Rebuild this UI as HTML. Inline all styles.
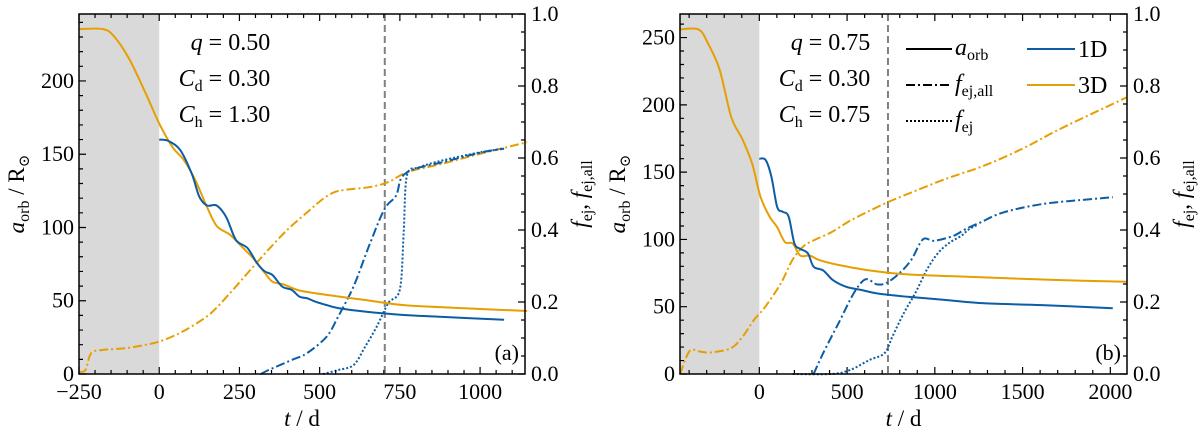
<!DOCTYPE html>
<html><head><meta charset="utf-8"><style>
body{margin:0;background:#fff}
svg{display:block}
svg text{font-family:"Liberation Serif","DejaVu Serif",serif}
</style></head><body>
<svg id="c" width="1200" height="440" viewBox="0 0 1200 440" xmlns="http://www.w3.org/2000/svg" font-family="Liberation Serif, DejaVu Serif, serif"></svg>
<script>
// ---- Panel (a) data ----
const a_t3=[-251,-175,-139,-91,-43,0,41,77,113,149,179,221,257,293,329,353,389,437,522,642,762,942,1147];
const a_a3=[235.4,235.4,230,214,192,171,155,146,132,114,101,95,87,79,69,63,61,57,54,50.5,47,45,43];
const a_t1=[0,29,65,101,125,149,179,209,239,275,305,329,353,383,413,437,461,486,522,558,642,762,882,1075];
const a_a1=[160,159,153,137,121,115,115,107,91.5,86,75.6,70,67.6,59.7,57.4,52.8,51.7,49.4,47,45,42.6,40.3,39,37];
const a_tf3=[-251,-230,-212,-175,-103,-43,0,53,101,161,221,281,341,401,461,510,546,582,654,714,774,882,1002,1147];
const a_ff3=[0.006,0.011,0.058,0.067,0.072,0.081,0.09,0.109,0.132,0.169,0.225,0.286,0.346,0.402,0.449,0.486,0.505,0.512,0.519,0.533,0.561,0.584,0.612,0.644];
const a_tfa1=[317,341,413,461,522,558,606,654,702,738,756,798,882,1002,1075];
const a_ffa1=[0,0.011,0.039,0.058,0.104,0.16,0.244,0.356,0.458,0.495,0.547,0.57,0.588,0.615,0.626];
const a_tfe1=[510,558,606,642,678,714,750,762,772,810,882,1002,1075];
const a_ffe1=[0,0.011,0.025,0.076,0.132,0.197,0.235,0.393,0.551,0.574,0.593,0.616,0.626];
// ---- Panel (b) data ----
const b_t3=[-451,-346,-292,-226,-160,-95,-40,6,58,102,146,190,233,288,342,452,627,845,1282,1719,2091];
const b_a3=[256,256,245.5,226,191,174,156,132,117,109,98,97,88,88,84.6,81,77,74,71.8,69.8,68.5];
const b_t1=[0,36,69,102,134,167,200,233,277,309,364,419,495,583,670,845,1063,1282,1610,2014];
const b_a1=[160,159,146.5,124,120.5,117,97,93,89.6,79.7,77,69.8,64.8,62.4,59.9,57.4,55,52.5,51.2,48.8];
const b_tf3=[-451,-423,-390,-335,-270,-160,-95,-29,36,124,190,255,321,408,518,627,731,845,1063,1282,1500,1719,2091];
const b_ff3=[0,0.039,0.067,0.062,0.06,0.072,0.104,0.151,0.188,0.253,0.318,0.356,0.374,0.393,0.426,0.453,0.477,0.5,0.542,0.579,0.626,0.682,0.768];
const b_tfa1=[309,364,452,539,605,670,725,801,867,932,998,1107,1173,1260,1391,1610,1828,2014];
const b_ffa1=[0,0.058,0.142,0.225,0.263,0.249,0.253,0.281,0.318,0.374,0.37,0.384,0.402,0.421,0.449,0.472,0.483,0.491];
const b_tfe1=[190,408,517,627,714,758,823,889,955,1020,1085,1151,1195,1249];
const b_ffe1=[0,0,0.011,0.039,0.058,0.104,0.169,0.225,0.29,0.337,0.365,0.384,0.402,0.416];
const a_xticks=[-250,0,250,500,750,1000];
const b_xticks=[0,500,1000,1500,2000];
const a_yticks=[0,50,100,150,200];
const b_yticks=[0,50,100,150,200,250];
const fticks=[0,0.2,0.4,0.6,0.8,1.0];
const a_vline=703, b_vline=733;

const NS="http://www.w3.org/2000/svg";
const svg=document.getElementById('c');
const BLUE="#0c5da5", ORANGE="#e69f00";
const FONT="Liberation Serif, DejaVu Serif, serif";
function mk(tag,attrs,parent){const e=document.createElementNS(NS,tag);for(const k in attrs)e.setAttribute(k,attrs[k]);if(tag==='text')e.setAttribute('font-family',FONT);(parent||svg).appendChild(e);return e;}
function smooth(pts){
  let d='M'+pts[0][0].toFixed(1)+','+pts[0][1].toFixed(1);
  for(let i=0;i<pts.length-1;i++){
    const p0=pts[Math.max(0,i-1)],p1=pts[i],p2=pts[i+1],p3=pts[Math.min(pts.length-1,i+2)];
    const k=0.16;
    const c1=[p1[0]+(p2[0]-p0[0])*k,p1[1]+(p2[1]-p0[1])*k];
    const c2=[p2[0]-(p3[0]-p1[0])*k,p2[1]-(p3[1]-p1[1])*k];
    d+='C'+c1.map(v=>v.toFixed(1)).join(',')+' '+c2.map(v=>v.toFixed(1)).join(',')+' '+p2[0].toFixed(1)+','+p2[1].toFixed(1);
  }
  return d;
}
function panel(P){
  const g=mk('g',{});
  
  
  const X=t=>P.x0+(t-P.xmin)/(P.xmax-P.xmin)*(P.x1-P.x0);
  const Y=a=>P.y1-(a/P.ymax)*(P.y1-P.y0);
  const F=f=>P.y1-f*(P.y1-P.y0);
  const sh=mk('rect',{x:P.x0,y:P.y0,width:X(0)-P.x0,height:P.y1-P.y0,fill:'#d9d9d9'},g);
  
  
  const vl=mk('line',{x1:X(P.vline),x2:X(P.vline),y1:P.y0,y2:P.y1,stroke:'#808080','stroke-width':2,'stroke-dasharray':'7,4'},g);
  
  
  function line(ts,vs,fn,col,dash,name){
    const pts=ts.map((t,i)=>[X(t),fn(vs[i])]);
    const p=mk('path',{d:smooth(pts),fill:'none',stroke:col,'stroke-width':2,'stroke-dasharray':dash||'none','stroke-linejoin':'round'},g);
    
    
  }
  line(P.tf3,P.ff3,F,ORANGE,'9,3,2,3','fej-all-3d');
  line(P.tfa1,P.ffa1,F,BLUE,'9,3,2,3','fej-all-1d');
  line(P.tfe1,P.ffe1,F,BLUE,'2,2','fej-1d');
  line(P.t3,P.a3,Y,ORANGE,null,'aorb-3d');
  line(P.t1,P.a1,Y,BLUE,null,'aorb-1d');
  const fr=mk('rect',{x:P.x0,y:P.y0,width:P.x1-P.x0,height:P.y1-P.y0,fill:'none',stroke:'#000','stroke-width':1.5},g);
  
  
  let s='';
  for(let t=Math.ceil(P.xmin);t<=P.xmax;t+=1){ if(((t%P.xminor)+P.xminor)%P.xminor!==0)continue;
    const major=((t%P.xmajor)+P.xmajor)%P.xmajor===0; const L=major?7:4; const x=X(t);
    s+=`M${x},${P.y1}v${-L}M${x},${P.y0}v${L}`;}
  for(let a=0;a<=P.ymax;a+=P.yminor){const major=a%50===0;const L=major?7:4;const y=Y(a);s+=`M${P.x0},${y}h${L}`;}
  for(let k=0;k<=20;k++){const f=k*0.05;const L=k%4===0?7:4;const y=F(f);s+=`M${P.x1},${y}h${-L}`;}
  mk('path',{d:s,stroke:'#000','stroke-width':1.2,fill:'none'},g);
  P.xticks.forEach(t=>{const e=mk('text',{x:X(t),y:P.y1+25,'text-anchor':'middle','font-size':22},g);e.textContent=(t<0?'\u2212'+(-t):t);
    });
  P.yticks.forEach(a=>{const e=mk('text',{x:P.x0-5,y:Y(a)+7,'text-anchor':'end','font-size':22},g);e.textContent=a;
    });
  fticks.forEach(f=>{const e=mk('text',{x:P.x1+6,y:F(f)+7,'text-anchor':'start','font-size':22},g);e.textContent=f.toFixed(1);
    });
  const xl=mk('text',{x:(P.x0+P.x1)/2,y:426,'text-anchor':'middle','font-size':23},g);
  xl.innerHTML='<tspan font-style="italic">t</tspan> / d';
  
  const yl=mk('text',{transform:`translate(${P.x0-55},${(P.y0+P.y1)/2}) rotate(-90)`,'text-anchor':'middle','font-size':23},g);
  yl.innerHTML='<tspan font-style="italic">a</tspan><tspan font-size="16" dy="5">orb</tspan><tspan dy="-5"> / R</tspan><tspan font-size="15" dy="5">\u2299</tspan>';
  
  const rl=mk('text',{transform:`translate(${P.x1+62},${(P.y0+P.y1)/2}) rotate(-90)`,'text-anchor':'middle','font-size':23},g);
  rl.innerHTML='<tspan font-style="italic">f</tspan><tspan font-size="16" dy="5">ej</tspan><tspan dy="-5">,  </tspan><tspan font-style="italic">f</tspan><tspan font-size="16" dy="5">ej,all</tspan>';
  
  const params=[['q','',P.q],['C','d',P.cd],['C','h',P.ch]];
  params.forEach((p,i)=>{const e=mk('text',{x:X(0)+111,y:P.y0+36+i*36,'text-anchor':'end','font-size':24},g);
    e.innerHTML=`<tspan font-style="italic">${p[0]}</tspan>`+(p[1]?`<tspan font-size="16" dy="5">${p[1]}</tspan><tspan dy="-5"> = ${p[2]}</tspan>`:` = ${p[2]}`);
    });
  const pl=mk('text',{x:P.x1-6,y:P.y1-14,'text-anchor':'end','font-size':22},g);pl.textContent=P.label;
  
}
panel({name:'panel-a',x0:79,x1:525,y0:14,y1:374,xmin:-250,xmax:1140,ymax:245.7,xmajor:250,xminor:50,yminor:10,
  t3:a_t3,a3:a_a3,t1:a_t1,a1:a_a1,tf3:a_tf3,ff3:a_ff3,tfa1:a_tfa1,ffa1:a_ffa1,tfe1:a_tfe1,ffe1:a_ffe1,
  xticks:a_xticks,yticks:a_yticks,vline:a_vline,q:'0.50',cd:'0.30',ch:'1.30',label:'(a)'});
panel({name:'panel-b',x0:680,x1:1127,y0:14,y1:374,xmin:-452,xmax:2095,ymax:267.5,xmajor:500,xminor:100,yminor:10,
  t3:b_t3,a3:b_a3,t1:b_t1,a1:b_a1,tf3:b_tf3,ff3:b_ff3,tfa1:b_tfa1,ffa1:b_ffa1,tfe1:b_tfe1,ffe1:b_ffe1,
  xticks:b_xticks,yticks:b_yticks,vline:b_vline,q:'0.75',cd:'0.30',ch:'0.75',label:'(b)'});
const lg=mk('g',{});


const leg=[['none','a','orb',43],['9,3,2,3','f','ej,all',79],['2,2','f','ej',115]];
leg.forEach(l=>{mk('line',{x1:906,x2:952,y1:l[3]+6,y2:l[3]+6,stroke:'#000','stroke-width':2,'stroke-dasharray':l[0]},lg);
  const e=mk('text',{x:955,y:l[3]+12,'font-size':24},lg);
  e.innerHTML=`<tspan font-style="italic">${l[1]}</tspan><tspan font-size="16" dy="5">${l[2]}</tspan>`;
  });
[[BLUE,'1D',43],[ORANGE,'3D',79]].forEach(l=>{mk('line',{x1:1027,x2:1075,y1:l[2]+6,y2:l[2]+6,stroke:l[0],'stroke-width':2},lg);
  const e=mk('text',{x:1078,y:l[2]+14,'font-size':24},lg);e.textContent=l[1];
  });
</script>
</body></html>
